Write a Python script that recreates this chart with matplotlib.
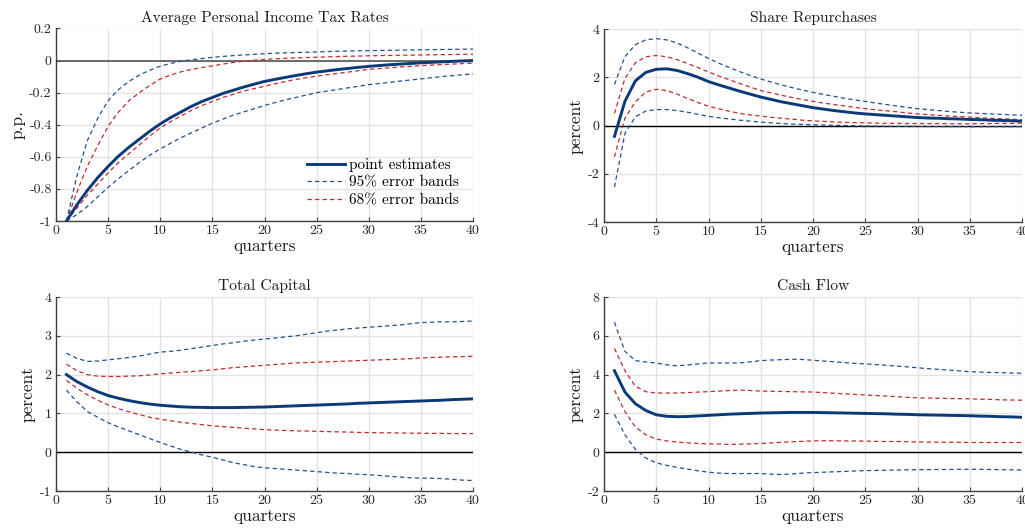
import matplotlib
matplotlib.use("Agg")
import matplotlib.pyplot as plt
import numpy as np

plt.rcParams['font.family'] = ['cmr10', 'DejaVu Serif']
plt.rcParams['axes.unicode_minus'] = False
plt.rcParams['mathtext.fontset'] = 'cm'

quarters = list(range(1, 41))

# ---------- Panel 1: Average Personal Income Tax Rates ----------
tax_point = [-1.0, -0.90, -0.81, -0.73, -0.66, -0.595, -0.54, -0.49, -0.44, -0.395,
             -0.355, -0.32, -0.285, -0.255, -0.23, -0.205, -0.185, -0.165, -0.147, -0.13,
             -0.117, -0.105, -0.093, -0.082, -0.072, -0.064, -0.056, -0.049, -0.042, -0.036,
             -0.031, -0.026, -0.022, -0.018, -0.014, -0.011, -0.008, -0.005, -0.002, 0.0]
tax_hi95 = [-1.0, -0.72, -0.50, -0.36, -0.25, -0.18, -0.13, -0.09, -0.06, -0.035,
            -0.018, -0.004, 0.005, 0.013, 0.02, 0.026, 0.031, 0.035, 0.039, 0.043,
            0.046, 0.048, 0.05, 0.052, 0.054, 0.056, 0.058, 0.059, 0.061, 0.062,
            0.063, 0.064, 0.065, 0.066, 0.067, 0.068, 0.069, 0.07, 0.071, 0.072]
tax_hi68 = [-1.0, -0.82, -0.66, -0.53, -0.41, -0.32, -0.25, -0.20, -0.155, -0.115,
            -0.09, -0.07, -0.055, -0.043, -0.033, -0.022, -0.012, -0.004, 0.002, 0.007,
            0.011, 0.014, 0.017, 0.019, 0.021, 0.023, 0.025, 0.027, 0.028, 0.03,
            0.031, 0.032, 0.033, 0.034, 0.035, 0.036, 0.037, 0.038, 0.039, 0.04]
tax_lo68 = [-1.0, -0.92, -0.84, -0.77, -0.70, -0.635, -0.58, -0.525, -0.47, -0.42,
            -0.38, -0.345, -0.31, -0.28, -0.255, -0.23, -0.21, -0.19, -0.175, -0.16,
            -0.145, -0.13, -0.118, -0.107, -0.097, -0.088, -0.08, -0.072, -0.063, -0.055,
            -0.05, -0.045, -0.04, -0.036, -0.032, -0.028, -0.025, -0.022, -0.019, -0.016]
tax_lo95 = [-1.0, -0.96, -0.91, -0.85, -0.79, -0.735, -0.685, -0.635, -0.59, -0.55,
            -0.515, -0.48, -0.45, -0.42, -0.39, -0.365, -0.34, -0.32, -0.30, -0.28,
            -0.262, -0.245, -0.23, -0.215, -0.20, -0.19, -0.18, -0.17, -0.16, -0.15,
            -0.143, -0.136, -0.128, -0.121, -0.114, -0.107, -0.10, -0.094, -0.088, -0.083]

# ---------- Panel 2: Share Repurchases ----------
rep_point = [-0.45, 1.0, 1.85, 2.2, 2.33, 2.35, 2.28, 2.15, 2.0, 1.82,
             1.68, 1.55, 1.42, 1.30, 1.18, 1.08, 0.98, 0.90, 0.82, 0.74,
             0.68, 0.62, 0.57, 0.52, 0.48, 0.45, 0.42, 0.39, 0.36, 0.33,
             0.31, 0.30, 0.28, 0.27, 0.25, 0.24, 0.22, 0.21, 0.20, 0.18]
rep_hi95 = [1.7, 2.85, 3.35, 3.55, 3.6, 3.55, 3.42, 3.22, 3.0, 2.78,
            2.58, 2.4, 2.23, 2.07, 1.93, 1.8, 1.68, 1.57, 1.47, 1.37,
            1.29, 1.21, 1.13, 1.06, 1.0, 0.93, 0.87, 0.81, 0.75, 0.7,
            0.66, 0.62, 0.58, 0.55, 0.52, 0.5, 0.48, 0.46, 0.44, 0.43]
rep_hi68 = [0.5, 1.95, 2.6, 2.85, 2.9, 2.85, 2.73, 2.57, 2.4, 2.22,
            2.05, 1.89, 1.74, 1.59, 1.45, 1.35, 1.25, 1.16, 1.08, 1.0,
            0.93, 0.87, 0.81, 0.75, 0.7, 0.65, 0.61, 0.57, 0.52, 0.48,
            0.45, 0.42, 0.39, 0.37, 0.35, 0.32, 0.3, 0.28, 0.26, 0.24]
rep_lo68 = [-1.3, 0.3, 0.98, 1.39, 1.5, 1.45, 1.3, 1.12, 0.95, 0.8,
            0.69, 0.59, 0.5, 0.44, 0.39, 0.34, 0.3, 0.26, 0.22, 0.19,
            0.17, 0.15, 0.13, 0.12, 0.11, 0.1, 0.09, 0.09, 0.08, 0.08,
            0.08, 0.08, 0.07, 0.07, 0.07, 0.08, 0.08, 0.09, 0.09, 0.1]
rep_lo95 = [-2.55, -0.33, 0.36, 0.6, 0.66, 0.66, 0.62, 0.55, 0.46, 0.38,
            0.32, 0.27, 0.22, 0.18, 0.14, 0.11, 0.08, 0.06, 0.045, 0.03,
            0.02, 0.01, 0.0, -0.01, -0.02, -0.025, -0.03, -0.033, -0.036, -0.04,
            -0.042, -0.044, -0.046, -0.048, -0.05, -0.05, -0.05, -0.05, -0.05, -0.05]

# ---------- Panel 3: Total Capital ----------
cap_point = [2.0, 1.82, 1.68, 1.56, 1.46, 1.39, 1.33, 1.28, 1.24, 1.21,
             1.19, 1.17, 1.16, 1.155, 1.15, 1.15, 1.15, 1.155, 1.16, 1.165,
             1.175, 1.185, 1.195, 1.205, 1.215, 1.225, 1.235, 1.245, 1.26, 1.27,
             1.28, 1.29, 1.30, 1.31, 1.32, 1.33, 1.34, 1.355, 1.365, 1.375]
cap_hi95 = [2.55, 2.42, 2.34, 2.35, 2.38, 2.41, 2.44, 2.48, 2.53, 2.58,
            2.6, 2.63, 2.67, 2.71, 2.75, 2.79, 2.82, 2.86, 2.89, 2.92,
            2.94, 2.97, 3.0, 3.04, 3.08, 3.12, 3.15, 3.18, 3.2, 3.22,
            3.24, 3.26, 3.28, 3.31, 3.34, 3.35, 3.36, 3.36, 3.37, 3.38]
cap_hi68 = [2.27, 2.1, 2.0, 1.96, 1.95, 1.95, 1.96, 1.97, 1.99, 2.02,
            2.04, 2.06, 2.08, 2.1, 2.12, 2.15, 2.18, 2.2, 2.22, 2.24,
            2.26, 2.28, 2.3, 2.31, 2.32, 2.33, 2.34, 2.35, 2.36, 2.37,
            2.38, 2.39, 2.4, 2.41, 2.43, 2.44, 2.45, 2.46, 2.465, 2.47]
cap_lo68 = [1.85, 1.65, 1.48, 1.34, 1.22, 1.12, 1.04, 0.97, 0.9, 0.85,
            0.81, 0.77, 0.74, 0.71, 0.68, 0.66, 0.64, 0.62, 0.6, 0.58,
            0.57, 0.56, 0.55, 0.545, 0.54, 0.53, 0.525, 0.52, 0.51, 0.505,
            0.5, 0.5, 0.495, 0.49, 0.49, 0.485, 0.485, 0.48, 0.48, 0.48]
cap_lo95 = [1.6, 1.3, 1.05, 0.9, 0.76, 0.65, 0.55, 0.45, 0.35, 0.25,
            0.16, 0.07, 0.0, -0.07, -0.13, -0.2, -0.27, -0.32, -0.37, -0.4,
            -0.42, -0.44, -0.46, -0.48, -0.5, -0.52, -0.54, -0.55, -0.57, -0.58,
            -0.6, -0.62, -0.64, -0.66, -0.67, -0.67, -0.68, -0.7, -0.72, -0.73]

# ---------- Panel 4: Cash Flow ----------
cf_point = [4.2, 3.1, 2.5, 2.15, 1.93, 1.85, 1.83, 1.84, 1.87, 1.9,
            1.93, 1.96, 1.98, 2.0, 2.02, 2.03, 2.04, 2.05, 2.05, 2.05,
            2.04, 2.03, 2.02, 2.01, 2.0, 1.99, 1.98, 1.96, 1.95, 1.93,
            1.92, 1.91, 1.9, 1.89, 1.88, 1.86, 1.85, 1.83, 1.82, 1.8]
cf_hi95 = [6.7, 5.2, 4.72, 4.65, 4.6, 4.5, 4.45, 4.5, 4.55, 4.6,
           4.6, 4.6, 4.6, 4.66, 4.72, 4.75, 4.77, 4.79, 4.78, 4.74,
           4.7, 4.66, 4.62, 4.58, 4.55, 4.52, 4.48, 4.44, 4.4, 4.35,
           4.31, 4.27, 4.23, 4.19, 4.15, 4.13, 4.11, 4.1, 4.08, 4.07]
cf_hi68 = [5.35, 4.2, 3.4, 3.12, 3.05, 3.05, 3.05, 3.07, 3.1, 3.12,
           3.15, 3.18, 3.2, 3.18, 3.15, 3.14, 3.13, 3.12, 3.11, 3.1,
           3.07, 3.04, 3.01, 2.98, 2.95, 2.92, 2.89, 2.86, 2.83, 2.8,
           2.79, 2.78, 2.77, 2.76, 2.75, 2.73, 2.72, 2.7, 2.69, 2.68]
cf_lo68 = [3.2, 2.1, 1.3, 0.9, 0.68, 0.58, 0.52, 0.48, 0.45, 0.43,
           0.42, 0.4, 0.41, 0.43, 0.45, 0.48, 0.51, 0.54, 0.56, 0.58,
           0.59, 0.59, 0.58, 0.58, 0.57, 0.56, 0.55, 0.55, 0.54, 0.53,
           0.52, 0.52, 0.51, 0.51, 0.5, 0.5, 0.5, 0.5, 0.5, 0.5]
cf_lo95 = [1.95, 0.9, 0.15, -0.3, -0.55, -0.68, -0.78, -0.87, -0.96, -1.03,
           -1.08, -1.1, -1.1, -1.1, -1.1, -1.13, -1.15, -1.12, -1.08, -1.05,
           -1.03, -1.01, -0.99, -0.97, -0.95, -0.94, -0.93, -0.92, -0.91, -0.9,
           -0.9, -0.89, -0.89, -0.88, -0.88, -0.88, -0.89, -0.9, -0.91, -0.92]

titles = ["Average Personal Income Tax Rates", "Share Repurchases",
          "Total Capital", "Cash Flow"]
ylabels = ["p.p.", "percent", "percent", "percent"]
xlabel = "quarters"
xticks = [0, 5, 10, 15, 20, 25, 30, 35, 40]
yticks_list = [[-1, -0.8, -0.6, -0.4, -0.2, 0, 0.2],
               [-4, -2, 0, 2, 4],
               [-1, 0, 1, 2, 3, 4],
               [-2, 0, 2, 4, 6, 8]]
yticklabels_list = [["-1", "-0.8", "-0.6", "-0.4", "-0.2", "0", "0.2"],
                    ["-4", "-2", "0", "2", "4"],
                    ["-1", "0", "1", "2", "3", "4"],
                    ["-2", "0", "2", "4", "6", "8"]]
legend_labels = ["point estimates", "95% error bands", "68% error bands"]

panels = [
    (tax_point, tax_hi95, tax_lo95, tax_hi68, tax_lo68),
    (rep_point, rep_hi95, rep_lo95, rep_hi68, rep_lo68),
    (cap_point, cap_hi95, cap_lo95, cap_hi68, cap_lo68),
    (cf_point, cf_hi95, cf_lo95, cf_hi68, cf_lo68),
]

C_POINT = "#0a3a78"
C_95 = "#24528f"
C_68 = "#c42a2e"
C_GRID = "#e3e3e3"
C_AX = "#404040"

fig = plt.figure(figsize=(10.25, 5.29), dpi=100)
W, H = 1025.0, 529.0
boxes = [
    (56, 28.5, 473, 221),
    (604, 29, 1022, 222),
    (56, 297, 473, 491),
    (604, 297, 1022, 491),
]

for i, (pt, h95, l95, h68, l68) in enumerate(panels):
    x0, yt, x1, yb = boxes[i]
    ax = fig.add_axes([x0 / W, 1 - yb / H, (x1 - x0) / W, (yb - yt) / H])
    ax.set_xlim(0, 40)
    yt_vals = yticks_list[i]
    ax.set_ylim(yt_vals[0], yt_vals[-1])
    ax.set_xticks(xticks)
    ax.set_xticklabels([str(t) for t in xticks])
    ax.set_yticks(yt_vals)
    ax.set_yticklabels(yticklabels_list[i])
    ax.grid(True, color=C_GRID, linewidth=1.0)
    ax.set_axisbelow(True)
    for s in ["top", "right"]:
        ax.spines[s].set_visible(False)
    for s in ["left", "bottom"]:
        ax.spines[s].set_color(C_AX)
        ax.spines[s].set_linewidth(1.0)
    ax.tick_params(direction="in", length=3, width=0.8, color=C_AX,
                   labelsize=10, labelcolor="#262626", pad=3)

    if i == 0:
        ax.axhline(0, color="#555555", linewidth=1.2, zorder=2)
    else:
        ax.axhline(0, color="black", linewidth=1.0, zorder=2)

    dash = (0, (3.5, 2.5))
    l1, = ax.plot(quarters, pt, color=C_POINT, linewidth=2.1, zorder=5)
    l2, = ax.plot(quarters, h95, color=C_95, linewidth=0.9, linestyle=dash, zorder=4)
    ax.plot(quarters, l95, color=C_95, linewidth=0.9, linestyle=dash, zorder=4)
    l3, = ax.plot(quarters, h68, color=C_68, linewidth=0.9, linestyle=dash, zorder=4)
    ax.plot(quarters, l68, color=C_68, linewidth=0.9, linestyle=dash, zorder=4)

    ax.set_title(titles[i], fontsize=11.2, color="#1a1a1a", pad=5)
    ax.set_xlabel(xlabel, fontsize=12.5, color="#1a1a1a", labelpad=1)
    ax.set_ylabel(ylabels[i], fontsize=12.5, color="#1a1a1a", labelpad=3)

    if i == 0:
        ax.legend([l1, l2, l3], legend_labels, loc="lower right",
                  frameon=False, fontsize=11, handlelength=2.5,
                  handletextpad=0.3, labelspacing=0.25,
                  bbox_to_anchor=(1.0, 0.0))

fig.savefig("out.png", dpi=100)
